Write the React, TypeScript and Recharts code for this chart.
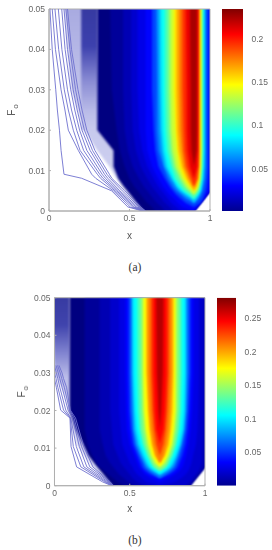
import { Area, Bar, BarChart, ComposedChart, Line, ReferenceArea, XAxis, YAxis } from "recharts";

// Fo rows shared by all the contour tables
const FO_ROWS = [0, 0.001, 0.002, 0.003, 0.004, 0.005, 0.006, 0.008, 0.011, 0.015, 0.02, 0.03, 0.05];
const X_TICKS = [0, 0.5, 1];
const FO_TICKS = [0, 0.01, 0.02, 0.03, 0.04, 0.05];
const _ = null;

// lower right corner of both panels has no data
const WEDGE = [0.9, 0.92, 0.94, 0.96, 0.98, 1, 1.02, 1.02, 1.02, 1.02, 1.02, 1.02, 1.02];

// panel (a)
const A_LEVELS = [0.006, 0.012, 0.018, 0.024, 0.03, 0.045, 0.06, 0.075, 0.09, 0.105, 0.12, 0.135, 0.15, 0.165, 0.18, 0.195, 0.21, 0.225];
const A_LEFT = [
  [0.66, 0.64, 0.61, 0.59, 0.57, 0.55, 0.53, 0.5, 0.47, 0.44, 0.42, 0.39, 0.38],
  [0.72, 0.7, 0.67, 0.65, 0.63, 0.61, 0.59, 0.56, 0.52, 0.49, 0.47, 0.46, 0.46],
  [0.77, 0.75, 0.72, 0.7, 0.68, 0.66, 0.64, 0.61, 0.57, 0.54, 0.52, 0.51, 0.51],
  [0.82, 0.79, 0.76, 0.74, 0.72, 0.7, 0.68, 0.65, 0.61, 0.58, 0.56, 0.55, 0.55],
  [0.9, 0.83, 0.8, 0.78, 0.75, 0.73, 0.71, 0.68, 0.64, 0.61, 0.6, 0.6, 0.6],
  [_, 0.9, 0.85, 0.82, 0.79, 0.77, 0.75, 0.72, 0.68, 0.66, 0.65, 0.64, 0.64],
  [_, _, 0.9, 0.85, 0.82, 0.79, 0.77, 0.74, 0.71, 0.68, 0.67, 0.67, 0.665],
  [_, _, 0.9, 0.88, 0.84, 0.81, 0.79, 0.76, 0.72, 0.7, 0.69, 0.685, 0.68],
  [_, _, _, 0.9, 0.86, 0.825, 0.8, 0.77, 0.735, 0.715, 0.705, 0.7, 0.695],
  [_, _, _, 0.9, 0.875, 0.84, 0.82, 0.785, 0.76, 0.735, 0.725, 0.72, 0.72],
  [_, _, _, _, 0.9, 0.865, 0.84, 0.81, 0.775, 0.755, 0.745, 0.74, 0.74],
  [_, _, _, _, 0.9, 0.88, 0.855, 0.825, 0.79, 0.77, 0.76, 0.755, 0.755],
  [_, _, _, _, _, 0.9, 0.875, 0.84, 0.81, 0.795, 0.785, 0.775, 0.775],
  [_, _, _, _, _, 0.9, 0.885, 0.855, 0.825, 0.805, 0.795, 0.79, 0.79],
  [_, _, _, _, _, _, 0.9, 0.87, 0.84, 0.825, 0.815, 0.81, 0.81],
  [_, _, _, _, _, _, 0.9, 0.885, 0.855, 0.84, 0.835, 0.83, 0.83],
  [_, _, _, _, _, _, _, 0.9, 0.875, 0.86, 0.855, 0.855, 0.85],
  [_, _, _, _, _, _, _, _, 0.9, 0.885, 0.88, 0.88, 0.875],
];
const A_RIGHT = [
  WEDGE,
  WEDGE,
  WEDGE,
  WEDGE,
  WEDGE,
  [_, 0.9, 0.94, 0.955, 0.965, 0.975, 0.98, 0.985, 0.99, 0.99, 0.99, 0.99, 0.99],
  [_, _, 0.9, 0.93, 0.945, 0.955, 0.96, 0.97, 0.975, 0.975, 0.975, 0.975, 0.975],
  [_, _, 0.9, 0.92, 0.935, 0.945, 0.95, 0.96, 0.965, 0.968, 0.968, 0.968, 0.968],
  [_, _, _, 0.9, 0.925, 0.94, 0.945, 0.952, 0.958, 0.96, 0.96, 0.96, 0.96],
  [_, _, _, 0.9, 0.92, 0.932, 0.938, 0.947, 0.952, 0.955, 0.955, 0.955, 0.955],
  [_, _, _, _, 0.9, 0.925, 0.932, 0.942, 0.947, 0.95, 0.95, 0.95, 0.95],
  [_, _, _, _, 0.9, 0.918, 0.928, 0.937, 0.943, 0.945, 0.945, 0.945, 0.945],
  [_, _, _, _, _, 0.9, 0.922, 0.932, 0.938, 0.94, 0.94, 0.94, 0.94],
  [_, _, _, _, _, 0.9, 0.916, 0.928, 0.934, 0.936, 0.936, 0.936, 0.936],
  [_, _, _, _, _, _, 0.9, 0.923, 0.93, 0.932, 0.932, 0.932, 0.932],
  [_, _, _, _, _, _, 0.9, 0.918, 0.926, 0.928, 0.928, 0.928, 0.928],
  [_, _, _, _, _, _, _, 0.9, 0.922, 0.924, 0.924, 0.924, 0.924],
  [_, _, _, _, _, _, _, _, 0.9, 0.918, 0.92, 0.92, 0.92],
];
const A_NAVY_LEFT = [0.585, 0.565, 0.545, 0.525, 0.505, 0.485, 0.465, 0.43, 0.4, 0.4, 0.3, 0.3, 0.3];
const A_PALE_LEFT = [0.575, 0.555, 0.535, 0.515, 0.495, 0.475, 0.455, 0.42, 0.375, 0.3, 0.22, 0.14, 0.1];
const A_DARK_FO = [0.02, 0.05];
const A_DARK_X = [0.2, 0.3];
const A_LINE_FO = [0, 0.001, 0.005, 0.0081, 0.0091, 0.015, 0.02, 0.025, 0.03, 0.04, 0.05];
const A_LINES = [
  [0.58, 0.49, 0.389, 0.203, 0.093, 0.075, 0.065, 0.052, 0.042, 0.02, 0.006],
  [0.585, 0.505, 0.4, 0.29, 0.265, 0.182, 0.12, 0.099, 0.075, 0.04, 0.02],
  [0.59, 0.52, 0.41, 0.32, 0.3, 0.193, 0.151, 0.12, 0.095, 0.06, 0.037],
  [0.592, 0.53, 0.42, 0.335, 0.315, 0.215, 0.172, 0.14, 0.115, 0.08, 0.058],
  [0.595, 0.54, 0.43, 0.35, 0.33, 0.235, 0.19, 0.16, 0.135, 0.1, 0.079],
  [0.595, 0.55, 0.44, 0.365, 0.345, 0.255, 0.205, 0.175, 0.15, 0.115, 0.093],
  [0.6, 0.56, 0.455, 0.38, 0.36, 0.27, 0.22, 0.19, 0.165, 0.13, 0.105],
  [0.6, 0.57, 0.47, 0.39, 0.375, 0.285, 0.235, 0.205, 0.18, 0.14, 0.115],
];
const A_CBAR_TICKS = [0.05, 0.1, 0.15, 0.2];
const A_CBAR_RANGE = [0.001, 0.2345];

// panel (b)
const B_LEVELS = [0.007, 0.014, 0.021, 0.028, 0.035, 0.05, 0.07, 0.09, 0.105, 0.125, 0.14, 0.16, 0.175, 0.195, 0.21, 0.23, 0.245, 0.265];
const B_LEFT = [
  [0.46, 0.42, 0.39, 0.36, 0.33, 0.3, 0.28, 0.25, 0.22, 0.2, 0.2, 0.2, 0.2],
  [0.53, 0.49, 0.46, 0.43, 0.41, 0.39, 0.37, 0.34, 0.32, 0.3, 0.3, 0.3, 0.3],
  [0.6, 0.55, 0.52, 0.5, 0.48, 0.46, 0.44, 0.42, 0.39, 0.38, 0.37, 0.37, 0.37],
  [0.7, 0.61, 0.58, 0.55, 0.53, 0.52, 0.5, 0.48, 0.45, 0.44, 0.43, 0.43, 0.43],
  [_, 0.7, 0.64, 0.6, 0.58, 0.56, 0.55, 0.53, 0.5, 0.48, 0.475, 0.47, 0.47],
  [_, _, 0.7, 0.635, 0.6, 0.58, 0.57, 0.55, 0.52, 0.505, 0.495, 0.49, 0.49],
  [_, _, 0.7, 0.66, 0.625, 0.6, 0.59, 0.565, 0.535, 0.52, 0.51, 0.505, 0.505],
  [_, _, _, 0.7, 0.65, 0.62, 0.605, 0.58, 0.55, 0.53, 0.525, 0.517, 0.517],
  [_, _, _, 0.7, 0.665, 0.635, 0.62, 0.595, 0.565, 0.545, 0.535, 0.527, 0.524],
  [_, _, _, _, 0.7, 0.655, 0.64, 0.615, 0.585, 0.565, 0.555, 0.55, 0.55],
  [_, _, _, _, 0.7, 0.665, 0.65, 0.625, 0.6, 0.58, 0.575, 0.57, 0.57],
  [_, _, _, _, _, 0.7, 0.665, 0.64, 0.615, 0.6, 0.59, 0.585, 0.585],
  [_, _, _, _, _, 0.7, 0.68, 0.65, 0.63, 0.61, 0.6, 0.595, 0.595],
  [_, _, _, _, _, _, 0.7, 0.665, 0.645, 0.63, 0.62, 0.61, 0.61],
  [_, _, _, _, _, _, 0.7, 0.675, 0.655, 0.64, 0.63, 0.62, 0.62],
  [_, _, _, _, _, _, _, 0.7, 0.675, 0.66, 0.65, 0.64, 0.64],
  [_, _, _, _, _, _, _, _, 0.7, 0.675, 0.665, 0.657, 0.657],
  [_, _, _, _, _, _, _, _, _, 0.7, 0.69, 0.68, 0.675],
];
const B_RIGHT = [
  WEDGE,
  WEDGE,
  [0.87, 0.9, 0.92, 0.94, 0.96, 0.97, 0.98, 0.98, 0.985, 0.99, 0.99, 0.99, 0.99],
  [0.7, 0.8, 0.84, 0.87, 0.89, 0.9, 0.91, 0.92, 0.94, 0.95, 0.955, 0.96, 0.96],
  [_, 0.7, 0.76, 0.8, 0.83, 0.85, 0.86, 0.875, 0.89, 0.905, 0.915, 0.925, 0.925],
  [_, _, 0.7, 0.765, 0.8, 0.82, 0.83, 0.85, 0.87, 0.885, 0.895, 0.905, 0.905],
  [_, _, 0.7, 0.74, 0.775, 0.8, 0.81, 0.83, 0.85, 0.87, 0.88, 0.89, 0.89],
  [_, _, _, 0.7, 0.75, 0.78, 0.795, 0.815, 0.84, 0.86, 0.87, 0.875, 0.875],
  [_, _, _, 0.7, 0.735, 0.765, 0.78, 0.805, 0.83, 0.85, 0.86, 0.867, 0.867],
  [_, _, _, _, 0.7, 0.745, 0.76, 0.785, 0.81, 0.83, 0.84, 0.845, 0.845],
  [_, _, _, _, 0.7, 0.735, 0.75, 0.775, 0.8, 0.815, 0.825, 0.83, 0.83],
  [_, _, _, _, _, 0.7, 0.735, 0.76, 0.785, 0.8, 0.81, 0.812, 0.812],
  [_, _, _, _, _, 0.7, 0.72, 0.75, 0.775, 0.79, 0.8, 0.8, 0.8],
  [_, _, _, _, _, _, 0.7, 0.735, 0.76, 0.775, 0.785, 0.79, 0.79],
  [_, _, _, _, _, _, 0.7, 0.725, 0.745, 0.76, 0.77, 0.78, 0.78],
  [_, _, _, _, _, _, _, 0.7, 0.725, 0.74, 0.75, 0.76, 0.762],
  [_, _, _, _, _, _, _, _, 0.7, 0.725, 0.735, 0.745, 0.745],
  [_, _, _, _, _, _, _, _, _, 0.7, 0.71, 0.72, 0.725],
];
const B_NAVY_LEFT = [0.385, 0.365, 0.345, 0.325, 0.305, 0.285, 0.265, 0.225, 0.19, 0.14, 0.1, 0.1, 0.1];
const B_PALE_LEFT = [0.375, 0.35, 0.33, 0.3, 0.28, 0.255, 0.235, 0.2, 0.15, 0.12, 0.1, 0.1, 0.1];
const B_DARK_FO = [0.021, 0.026, 0.03, 0.05];
const B_DARK_LEFT = [0.1, 0.05, 0, -0.02];
const B_DARK_RIGHT = [0.1, 0.1, 0.1, 0.1];
const B_LINE_FO = [0, 0.001, 0.005, 0.0104, 0.018, 0.0201, 0.0262, 0.0285, 0.03, 0.032];
const B_LINES = [
  [0.38, 0.32, 0.147, 0.11, 0.103, 0.041, 0.012, 0, _, _],
  [0.385, 0.335, 0.175, 0.125, 0.105, 0.06, 0.022, 0.01, 0, _],
  [0.385, 0.345, 0.195, 0.145, 0.108, 0.075, 0.035, 0.022, 0.012, 0],
  [0.39, 0.355, 0.215, 0.165, 0.12, 0.09, 0.05, 0.035, 0.025, 0.01],
  [0.39, 0.365, 0.235, 0.18, 0.13, 0.1, 0.065, 0.048, 0.038, 0.02],
  [0.39, 0.37, 0.255, 0.195, 0.14, 0.105, 0.08, 0.06, 0.05, 0.03],
];
const B_CBAR_TICKS = [0.05, 0.1, 0.15, 0.2, 0.25];
const B_CBAR_RANGE = [0.0005, 0.28];

const JET_STOPS: [number, string][] = [
  [0, "#00008f"],
  [0.125, "#0000ff"],
  [0.375, "#00ffff"],
  [0.625, "#ffff00"],
  [0.875, "#ff0000"],
  [1, "#800000"],
];
const GREY = "#666";
const FONT = "'Liberation Sans', Arial, sans-serif";

function jet(t: number) {
  const v = Math.min(1, Math.max(0, t));
  const r = Math.min(1, Math.max(0, Math.min(4 * v - 1.5, -4 * v + 4.5)));
  const g = Math.min(1, Math.max(0, Math.min(4 * v - 0.5, -4 * v + 3.5)));
  const b = Math.min(1, Math.max(0, Math.min(4 * v + 0.5, -4 * v + 2.5)));
  return `rgb(${Math.round(r * 255)},${Math.round(g * 255)},${Math.round(b * 255)})`;
}

function buildRows(left: any[][], right: any[][], navy: number[], pale: number[]) {
  const rows = FO_ROWS.map((F, i) => {
    const row: any = { F, navy: [navy[i], WEDGE[i]], pale: [pale[i], navy[i] + 0.005] };
    left.forEach((l, k) => {
      row["c" + k] = l[i] == null || right[k][i] == null ? null : [l[i], right[k][i]];
    });
    return row;
  });
  // repeat the edge rows past the frame so the soft edges get clipped clean
  return [{ ...rows[0], F: -0.002 }, ...rows, { ...rows[rows.length - 1], F: 0.052 }];
}

function FoLabel({ viewBox, x0 }: any) {
  const cy = viewBox.y + viewBox.height / 2;
  return (
    <text transform={`translate(${x0},${cy}) rotate(-90)`} fontFamily={FONT} fontSize={10} fill="#555" textAnchor="middle">
      F
      <tspan dy={3} dx={1} fontSize={8}>o</tspan>
    </text>
  );
}

interface PanelProps {
  id: string;
  plotLeft: number;
  plotTop: number;
  plotWidth: number;
  plotHeight: number;
  top: number;
  vmax: number;
  levels: number[];
  left: any[][];
  right: any[][];
  navy: number[];
  pale: number[];
  dark: { F: number; x: number[] }[];
  lineFo: number[];
  lines: any[][];
  fade: [number, string][];
  labelX: number;
  xLabelOffset: number;
  cbar: { left: number; width: number; ticks: number[]; range: number[] };
}

function Panel(p: PanelProps) {
  const rows = buildRows(p.left, p.right, p.navy, p.pale);
  const chartW = p.cbar.left;
  const chartH = 250;
  return (
    <>
      <div style={{ position: "absolute", left: 0, top: p.top }}>
        <ComposedChart
          width={chartW}
          height={chartH}
          layout="vertical"
          data={rows}
          margin={{ top: p.plotTop, right: chartW - p.plotLeft - p.plotWidth, bottom: 0, left: 0 }}
        >
          <defs>
            <linearGradient id={p.id + "dark"} x1="0" y1="0" x2="0" y2="1">
              {p.fade.map(([o, c]) => (
                <stop key={o} offset={o} stopColor={c} />
              ))}
            </linearGradient>
            <linearGradient id={p.id + "pale"} x1="0" y1="0" x2="0" y2="1">
              <stop offset={0} stopColor="#a6a8e0" />
              <stop offset={0.45} stopColor="#c4c6ec" />
              <stop offset={1} stopColor="#d2d4f2" />
            </linearGradient>
          </defs>
          <XAxis
            type="number"
            dataKey="x"
            domain={[0, 1]}
            ticks={X_TICKS}
            allowDataOverflow
            height={chartH - p.plotTop - p.plotHeight}
            interval={0}
            tickSize={-2}
            tickMargin={6}
            tick={{ fontSize: 8.5, fill: GREY, fontFamily: FONT }}
            stroke="#b0b0b0"
            label={{ value: "x", position: "insideTop", offset: p.xLabelOffset, fontSize: 10, fill: "#555", fontFamily: FONT }}
          />
          <YAxis
            type="number"
            dataKey="F"
            domain={[0, 0.05]}
            ticks={FO_TICKS}
            reversed
            allowDataOverflow
            width={p.plotLeft}
            interval={0}
            tickSize={-2}
            tickMargin={6}
            tick={{ fontSize: 8.5, fill: GREY, fontFamily: FONT }}
            stroke="#b0b0b0"
            label={<FoLabel x0={p.labelX} />}
          />
          <Area className="band" dataKey="pale" fill={`url(#${p.id}pale)`} fillOpacity={1} stroke="none" isAnimationActive={false} dot={false} activeDot={false} />
          <Area
            className="band"
            data={p.dark}
            dataKey="x"
            fill={`url(#${p.id}dark)`}
            fillOpacity={1}
            stroke="none"
            isAnimationActive={false}
            dot={false}
            activeDot={false}
          />
          {p.lines.map((line, k) => (
            <Line
              key={k}
              data={p.lineFo.map((F, i) => ({ F, x: line[i] }))}
              dataKey="x"
              stroke="#6e70cf"
              strokeWidth={0.9}
              dot={false}
              activeDot={false}
              isAnimationActive={false}
              type="linear"
            />
          ))}
          <Area className="band" dataKey="navy" fill={jet(0)} fillOpacity={1} stroke="none" isAnimationActive={false} dot={false} activeDot={false} />
          {p.levels.map((v, k) => (
            <Area
              key={v}
              className="band"
              dataKey={"c" + k}
              fill={jet(v / p.vmax)}
              fillOpacity={1}
              stroke="none"
              isAnimationActive={false}
              dot={false}
              activeDot={false}
            />
          ))}
          <ReferenceArea x1={0} x2={1} y1={0} y2={0.05} fill="none" stroke="#b0b0b0" strokeWidth={1} />
        </ComposedChart>
      </div>
      <div style={{ position: "absolute", left: p.cbar.left, top: p.top }}>
        <BarChart
          width={272 - p.cbar.left}
          height={chartH}
          data={[{ name: "c", range: p.cbar.range }]}
          margin={{ top: p.plotTop, right: 0, bottom: chartH - p.plotTop - p.plotHeight, left: 0 }}
          barCategoryGap={0}
        >
          <defs>
            <linearGradient id={p.id + "jet"} x1="0" y1="1" x2="0" y2="0">
              {JET_STOPS.map(([o, c]) => (
                <stop key={o} offset={o} stopColor={c} />
              ))}
            </linearGradient>
          </defs>
          <XAxis dataKey="name" hide />
          <YAxis
            orientation="right"
            type="number"
            domain={p.cbar.range}
            ticks={p.cbar.ticks}
            allowDataOverflow
            width={272 - p.cbar.left - p.cbar.width}
            interval={0}
            axisLine={false}
            tickLine={false}
            tickMargin={3}
            tick={{ fontSize: 8.5, fill: GREY, fontFamily: FONT, textAnchor: "start" }}
          />
          <Bar dataKey="range" fill={`url(#${p.id}jet)`} isAnimationActive={false} />
        </BarChart>
      </div>
    </>
  );
}

function Caption({ text, top }: { text: string; top: number }) {
  return (
    <div
      style={{
        position: "absolute",
        left: 105,
        width: 60,
        top,
        textAlign: "center",
        fontFamily: "'Liberation Serif', serif",
        fontSize: 11.5,
        color: "#333",
      }}
    >
      {text}
    </div>
  );
}

const A_FADE: [number, string][] = [
  [0, "#35389f"],
  [0.35, "#3d41ae"],
  [0.62, "#8a8cd4"],
  [0.85, "#b9bbe8"],
  [1, "#c9cbee"],
];
const B_FADE: [number, string][] = [
  [0, "#35389f"],
  [0.3, "#4044ad"],
  [0.55, "#8487d2"],
  [0.75, "#bcbeea"],
  [1, "#c9cbee"],
];

export default function App() {
  return (
    <div style={{ position: "absolute", left: 0, top: 0, width: 272, height: 550, background: "#fff", overflow: "hidden" }}>
      <style>{`.band path { filter: blur(0.8px); } svg text { filter: blur(0.25px); }`}</style>
      <Panel
        id="a"
        top={0}
        plotLeft={49}
        plotTop={9}
        plotWidth={161}
        plotHeight={202}
        vmax={0.2345}
        levels={A_LEVELS}
        left={A_LEFT}
        right={A_RIGHT}
        navy={A_NAVY_LEFT}
        pale={A_PALE_LEFT}
        dark={[
          { F: A_DARK_FO[0], x: A_DARK_X },
          { F: A_DARK_FO[1] + 0.002, x: A_DARK_X },
        ]}
        lineFo={A_LINE_FO}
        lines={A_LINES}
        fade={A_FADE}
        labelX={15}
        xLabelOffset={21}
        cbar={{ left: 222, width: 20.5, ticks: A_CBAR_TICKS, range: A_CBAR_RANGE }}
      />
      <Caption text="(a)" top={261} />
      <Panel
        id="b"
        top={275}
        plotLeft={54.5}
        plotTop={22.7}
        plotWidth={150.5}
        plotHeight={188}
        vmax={0.28}
        levels={B_LEVELS}
        left={B_LEFT}
        right={B_RIGHT}
        navy={B_NAVY_LEFT}
        pale={B_PALE_LEFT}
        dark={B_DARK_FO.map((F, i) => ({ F: i === 3 ? F + 0.002 : F, x: [B_DARK_LEFT[i], B_DARK_RIGHT[i]] }))}
        lineFo={B_LINE_FO}
        lines={B_LINES}
        fade={B_FADE}
        labelX={25}
        xLabelOffset={19}
        cbar={{ left: 216.7, width: 18.6, ticks: B_CBAR_TICKS, range: B_CBAR_RANGE }}
      />
      <Caption text="(b)" top={534} />
    </div>
  );
}
